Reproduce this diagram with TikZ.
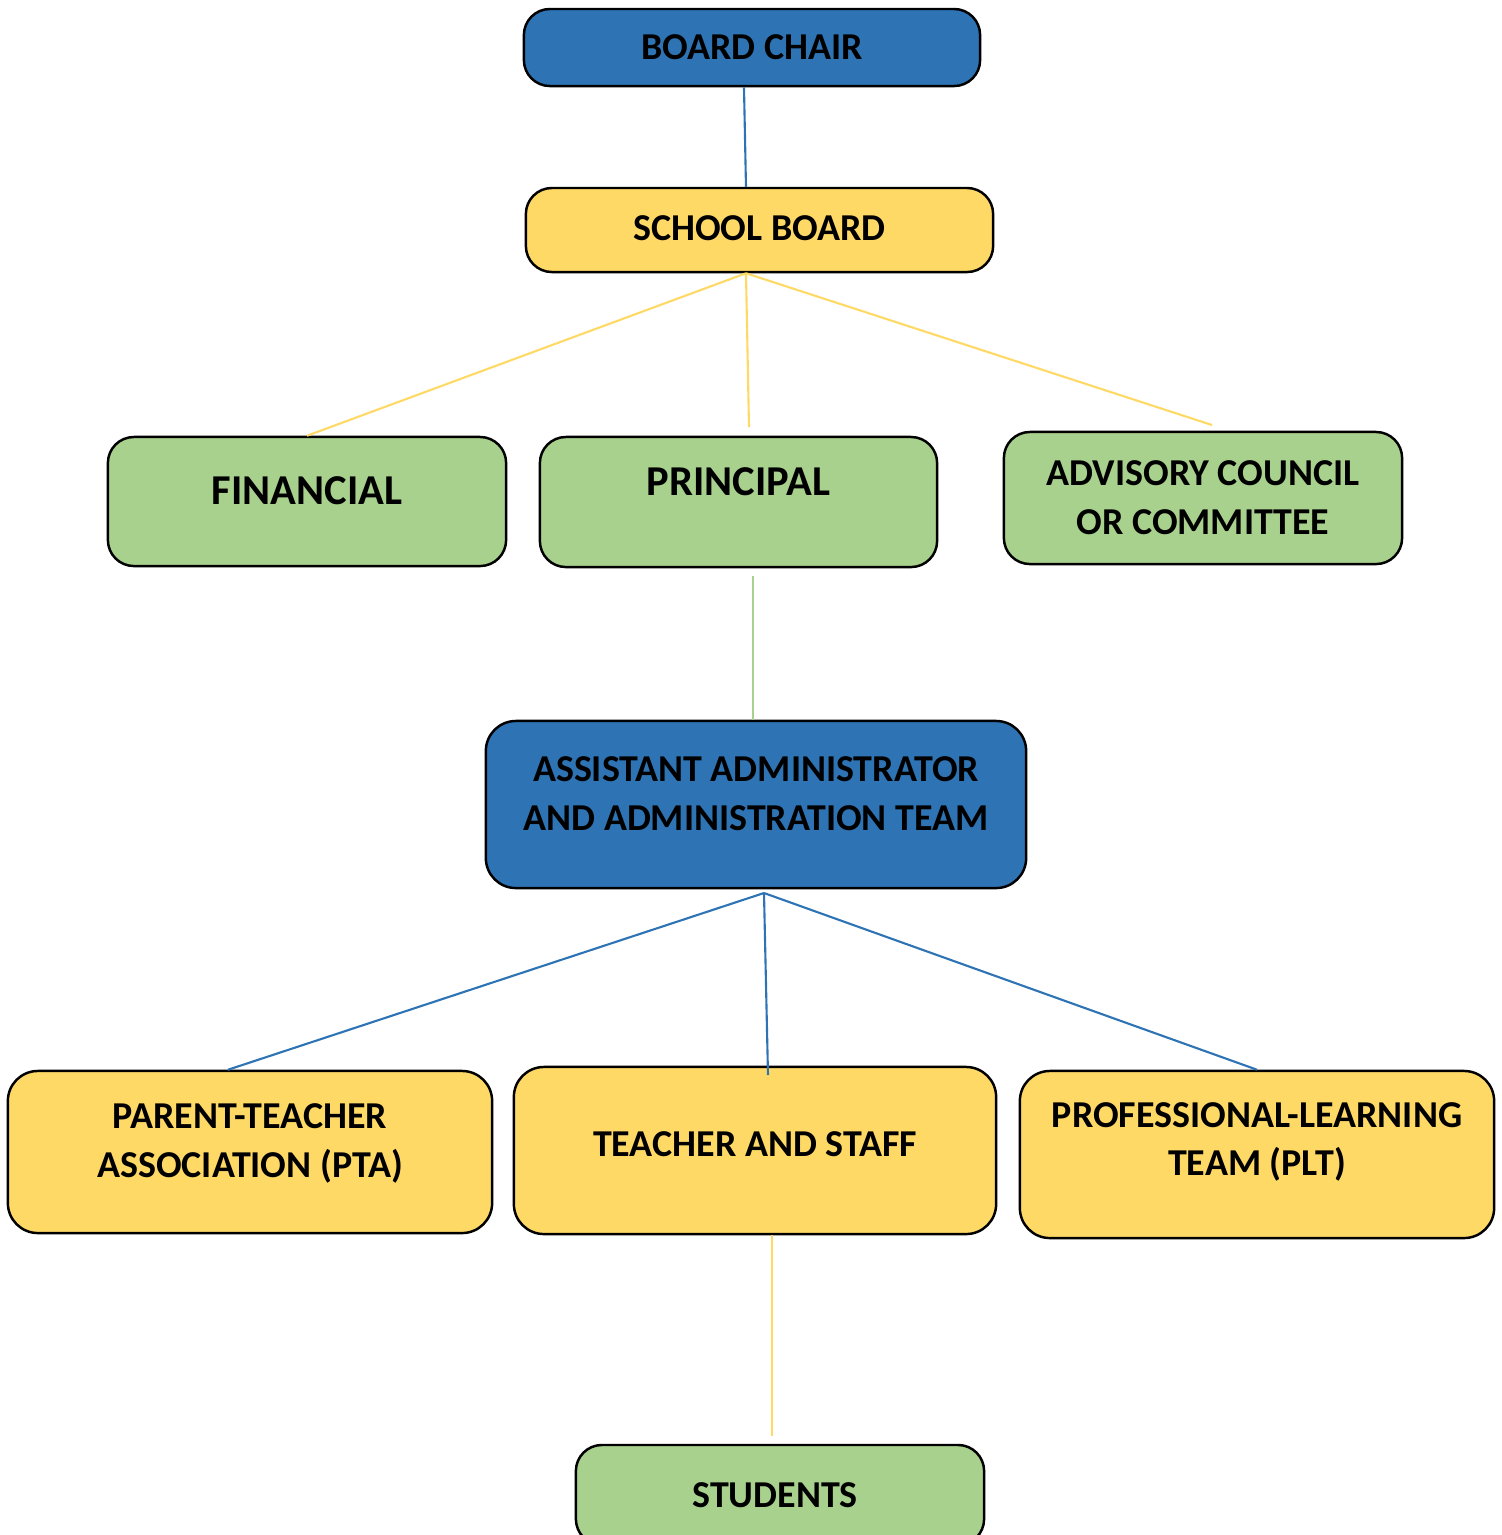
\documentclass[tikz,border=0pt]{standalone}
\usepackage{fontspec}
\setmainfont{Carlito}
\usetikzlibrary{positioning}
\definecolor{chairblue}{HTML}{2E74B5}
\definecolor{boardyellow}{HTML}{FFD966}
\definecolor{leafgreen}{HTML}{A9D18E}
\tikzset{
  orgbox/.style={draw=black, line width=0.7pt, rounded corners=0.26cm, align=center,
    inner sep=0pt, font=\bfseries\fontsize{10.8}{13.9}\selectfont},
  bigtext/.style={font=\bfseries\fontsize{12.1}{13.9}\selectfont},
  link/.style={line width=0.6pt},
}

\begin{document}
\begin{tikzpicture}[x=0.01cm, y=-0.01cm, line join=round]
\useasboundingbox (0,0) rectangle (1502,1535);
% top of the chart
\node[orgbox, fill=chairblue, minimum width=4.56cm, minimum height=0.77cm] (chair) at (752,47.5) {BOARD CHAIR};
\node[orgbox, fill=boardyellow, minimum width=4.67cm, minimum height=0.84cm, text depth=1.1pt] (sboard) at (759.5,230) {SCHOOL BOARD};
% second row
\node[orgbox, bigtext, fill=leafgreen, minimum width=3.98cm, minimum height=1.29cm, text depth=6.5pt] (fin) at (307,501.5) {FINANCIAL};
\node[orgbox, bigtext, fill=leafgreen, minimum width=3.97cm, minimum height=1.30cm, text depth=11.4pt] (prin) at (738.5,502) {PRINCIPAL};
\node[orgbox, fill=leafgreen, minimum width=3.98cm, minimum height=1.32cm] (adv) at (1203,498) {ADVISORY COUNCIL\\OR COMMITTEE};
% middle
\node[orgbox, fill=chairblue, minimum width=5.40cm, minimum height=1.67cm, rounded corners=0.3cm, text depth=6pt] (asst) at (756,804.5) {ASSISTANT ADMINISTRATOR\\AND ADMINISTRATION TEAM};
% third row
\node[orgbox, fill=boardyellow, minimum width=4.84cm, minimum height=1.62cm, rounded corners=0.3cm, text depth=6.3pt] (pta) at (250,1152) {PARENT-TEACHER\\ASSOCIATION (PTA)};
\node[orgbox, fill=boardyellow, minimum width=4.82cm, minimum height=1.67cm, rounded corners=0.3cm, text depth=3.7pt] (staff) at (755,1150.5) {TEACHER AND STAFF};
\node[orgbox, fill=boardyellow, minimum width=4.74cm, minimum height=1.67cm, rounded corners=0.3cm, text depth=8.8pt] (plt) at (1257,1154.5) {PROFESSIONAL-LEARNING\\TEAM (PLT)};
% bottom
\node[orgbox, fill=leafgreen, minimum width=4.08cm, minimum height=1.00cm] (stud) at (780,1495) {\hspace*{-0.05cm}STUDENTS\hspace*{0.05cm}};

% connectors
\coordinate (sbhub) at ([xshift=-0.135cm]sboard.south);
\coordinate (prinend) at (749,427);
\coordinate (advend) at (1212,425);
\coordinate (prinfoot) at (753,576);
\coordinate (asthub) at (764,893);
\coordinate (staffend) at (768,1075);
\coordinate (studtop) at (772,1436);
\draw[link, chairblue] ([xshift=-0.08cm]chair.south) -- ([xshift=-0.135cm]sboard.north);
\draw[link, boardyellow] (sbhub) -- (fin.north);
\draw[link, boardyellow] (sbhub) -- (prinend);
\draw[link, boardyellow] (sbhub) -- (advend);
\draw[link, leafgreen] (prinfoot) -- (prinfoot |- asst.north);
\draw[link, chairblue] (asthub) -- ([xshift=-0.22cm]pta.north);
\draw[link, chairblue] (asthub) -- (staffend);
\draw[link, chairblue] (asthub) -- (plt.north);
\draw[link, boardyellow] (staff.south -| studtop) -- (studtop);
\end{tikzpicture}
\end{document}
